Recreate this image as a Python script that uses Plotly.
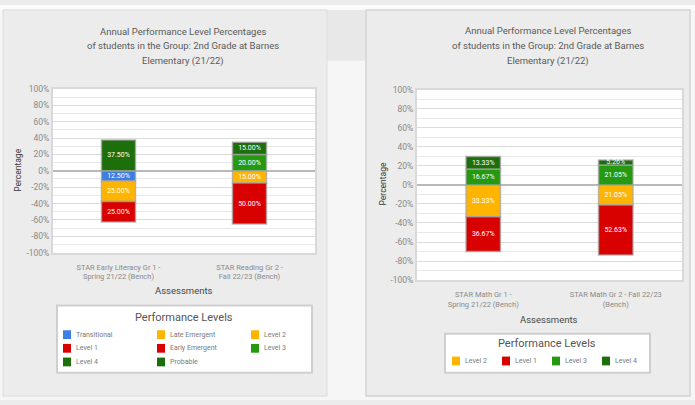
import plotly.graph_objects as go

W, H = 695, 405

# ---- data -------------------------------------------------------------
lit_categories = ["STAR Early Literacy Gr 1 -<br>Spring 21/22 (Bench)",
                  "STAR Reading Gr 2 -<br>Fall 22/23 (Bench)"]
lit_levels = ["Transitional", "Late Emergent", "Level 2", "Level 1",
              "Early Emergent", "Level 3", "Level 4", "Probable"]
# below-target levels are stored as negative shares so they stack downwards
lit_values = {
    "Transitional":   [-12.50, None],
    "Late Emergent":  [-25.00, None],
    "Level 2":        [None, -15.00],
    "Level 1":        [None, -50.00],
    "Early Emergent": [-25.00, None],
    "Level 3":        [None, 20.00],
    "Level 4":        [None, 15.00],
    "Probable":       [37.50, None],
}

math_categories = ["STAR Math Gr 1 -<br>Spring 21/22 (Bench)",
                   "STAR Math Gr 2 - Fall 22/23<br>(Bench)"]
math_levels = ["Level 2", "Level 1", "Level 3", "Level 4"]
math_values = {
    "Level 2": [-33.33, -21.05],
    "Level 1": [-36.67, -52.63],
    "Level 3": [16.67, 21.05],
    "Level 4": [13.33, 5.26],
}

tick_vals = [-100, -80, -60, -40, -20, 0, 20, 40, 60, 80, 100]
tick_text = [f"{v}%" for v in tick_vals]

title_lines = ["Annual Performance Level Percentages",
               "of students in the Group: 2nd Grade at Barnes",
               "Elementary (21/22)"]

# ---- styling ----------------------------------------------------------
level_colors = {
    "Transitional": "#3b7fe3",
    "Late Emergent": "#ffb400",
    "Level 2": "#ffb400",
    "Level 1": "#d90000",
    "Early Emergent": "#d90000",
    "Level 3": "#25990f",
    "Level 4": "#1d6f0b",
    "Probable": "#1d6f0b",
}
FONT = "Roboto"
PANEL = "#ececec"
OUTSIDE = "#f6f6f6"


def px(x):
    return x / W


def py(y):
    return 1 - y / H


def fmt(v):
    return "" if v is None else f"{abs(v):.2f}%"


fig = go.Figure()

for name in lit_levels:
    vals = lit_values[name]
    fig.add_trace(go.Bar(
        x=lit_categories, y=vals, name=name,
        text=[fmt(v) for v in vals],
        marker=dict(color=level_colors[name]),
        xaxis="x", yaxis="y",
    ))

for name in math_levels:
    vals = math_values[name]
    fig.add_trace(go.Bar(
        x=math_categories, y=vals, name=name,
        text=[fmt(v) for v in vals],
        marker=dict(color=level_colors[name]),
        xaxis="x2", yaxis="y2",
    ))

fig.update_traces(textposition="inside", insidetextanchor="middle",
                  textangle=0, textfont=dict(size=7, color="white", family=FONT),
                  marker_line=dict(color="rgba(165,165,165,0.75)", width=1.5),
                  cliponaxis=False, hoverinfo="skip", showlegend=False)

yaxis_style = dict(
    range=[-100, 100], tickvals=tick_vals, ticktext=tick_text,
    tickfont=dict(size=8.5, color="#8a8a8a", family=FONT),
    showgrid=True, gridcolor="#dcdcdc", gridwidth=1,
    minor=dict(dtick=10, showgrid=True, gridcolor="#e8e8e8", gridwidth=1),
    zeroline=True, zerolinecolor="#b9b9b9", zerolinewidth=2,
    showline=True, linecolor="#d9d9d9", linewidth=2, mirror=True,
    fixedrange=True,
)
xaxis_style = dict(
    tickfont=dict(size=7.5, color="#8a8a8a", family=FONT),
    showline=True, linecolor="#d9d9d9", linewidth=2, mirror=True,
    ticklabelstandoff=6, fixedrange=True,
)

fig.update_layout(
    width=W, height=H,
    margin=dict(l=0, r=0, t=0, b=0),
    paper_bgcolor=PANEL, plot_bgcolor="#ffffff",
    barmode="relative", bargap=0.74,
    font=dict(family=FONT),
    uniformtext=dict(minsize=7, mode="show"),
    showlegend=False,
    xaxis=dict(domain=[px(53), px(315)], anchor="y", **xaxis_style),
    yaxis=dict(domain=[py(254), py(86)], anchor="x", **yaxis_style),
    xaxis2=dict(domain=[px(417), px(682)], anchor="y2", **xaxis_style),
    yaxis2=dict(domain=[py(282), py(87)], anchor="x2", **yaxis_style),
)


def add_rect(x0, x1, y0, y1, fill="rgba(0,0,0,0)", line_color=None, line_width=0):
    fig.add_shape(type="rect", xref="paper", yref="paper", layer="below",
                  x0=px(x0), x1=px(x1), y0=py(y1), y1=py(y0),
                  fillcolor=fill,
                  line=dict(color=line_color or "rgba(0,0,0,0)", width=line_width))


# ---- page background around the two panels -----------------------------
add_rect(0, W, 0, 5, fill="#fbfbfb")
add_rect(0, 3, 5, H, fill=OUTSIDE)
add_rect(327, 366, 57, H, fill=OUTSIDE)
add_rect(328, 365, 5, 57, fill="#e8e8e8")
add_rect(690, W, 5, H, fill=OUTSIDE)
add_rect(0, W, 401, H, fill=OUTSIDE)
add_rect(3, 327, 5, 401, line_color="#dcdcdc", line_width=1)
add_rect(366, 690, 5, 401, line_color="#d4d4d4", line_width=1.5)

# ---- legend boxes -------------------------------------------------------
legend_font = dict(size=7, color="#7a7a7a", family=FONT)
add_rect(57, 312, 308, 377, fill="#ffffff", line_color="#cfcfcf", line_width=2)
add_rect(445, 650, 337, 377, fill="#ffffff", line_color="#cfcfcf", line_width=2)

notes = []
# literacy legend: three columns, filled row by row
for i, name in enumerate(lit_levels):
    col, row = i % 3, i // 3
    ix = 63 + col * 94
    iy = 338 + row * 14
    add_rect(ix, ix + 8, iy - 4.5, iy + 4.5, fill=level_colors[name])
    notes.append(dict(x=px(ix + 11), y=py(iy), text=name, xanchor="left",
                      font=legend_font))
# math legend: a single row
for i, name in enumerate(math_levels):
    ix = 452 + i * 50
    iy = 365
    add_rect(ix, ix + 8, iy - 4.5, iy + 4.5, fill=level_colors[name])
    notes.append(dict(x=px(ix + 11), y=py(iy), text=name, xanchor="left",
                      font=legend_font))

# ---- titles -------------------------------------------------------------
for cx, ys in ((183, (27, 42, 57)), (548, (26, 42, 57))):
    for line, yy in zip(title_lines, ys):
        notes.append(dict(x=px(cx), y=py(yy), text=line,
                          font=dict(size=9.5, color="#5a5a5a", family=FONT)))
for cx, yy in ((184, 293), (549, 322)):
    notes.append(dict(x=px(cx), y=py(yy), text="Assessments",
                      font=dict(size=9.5, color="#474747", family=FONT)))
for cx, yy in ((18, 170), (383, 184)):
    notes.append(dict(x=px(cx), y=py(yy), text="Percentage", textangle=-90,
                      font=dict(size=8.5, color="#383838", family=FONT)))
for cx, yy in ((184, 320), (547, 347)):
    notes.append(dict(x=px(cx), y=py(yy), text="Performance Levels",
                      font=dict(size=11, color="#555555", family=FONT)))
for n in notes:
    n.setdefault("xanchor", "center")
    fig.add_annotation(xref="paper", yref="paper", showarrow=False,
                       yanchor="middle", **n)

fig.write_html("out.html")
